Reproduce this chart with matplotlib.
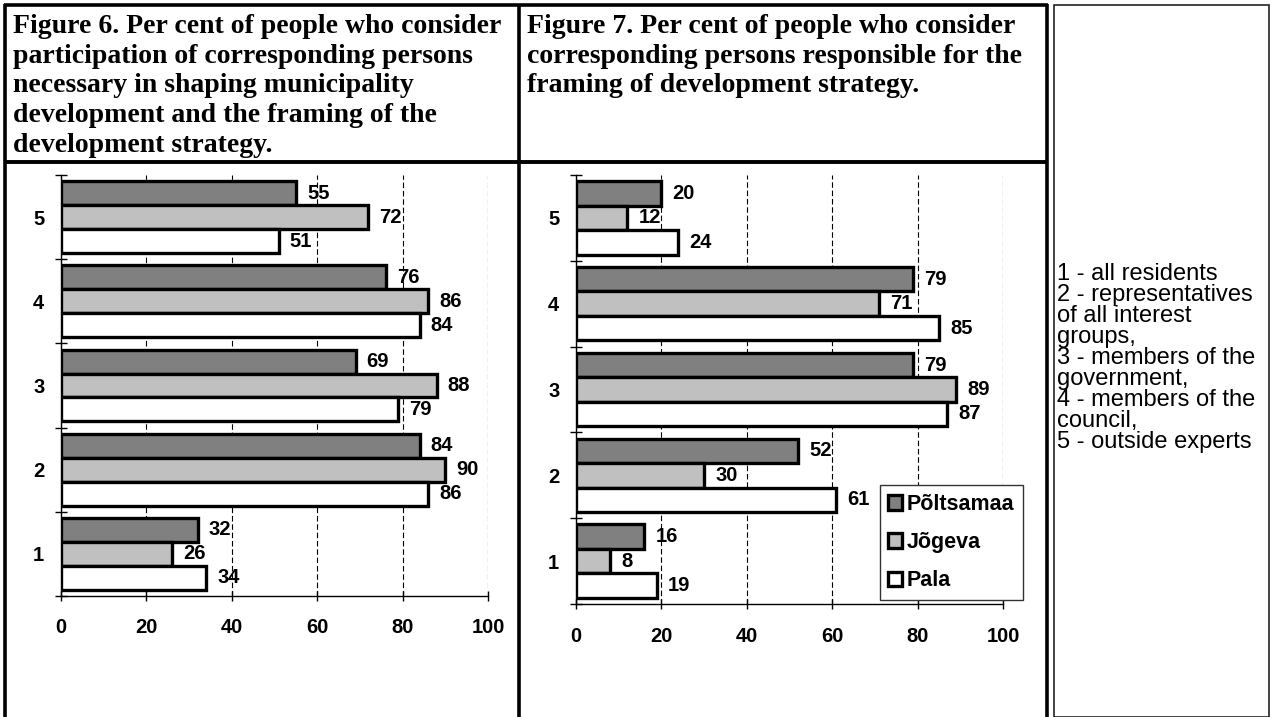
import matplotlib
matplotlib.use('Agg')
import matplotlib.pyplot as plt
from matplotlib.lines import Line2D
from matplotlib.patches import Rectangle
import numpy as np

# data
categories = ['1', '2', '3', '4', '5']
series_names = ['Põltsamaa', 'Jõgeva', 'Pala']

fig6_poltsamaa = [32, 84, 69, 76, 55]
fig6_jogeva = [26, 90, 88, 86, 72]
fig6_pala = [34, 86, 79, 84, 51]

fig7_poltsamaa = [16, 52, 79, 79, 20]
fig7_jogeva = [8, 30, 89, 71, 12]
fig7_pala = [19, 61, 87, 85, 24]

x_ticks = [0, 20, 40, 60, 80, 100]

title6 = ["Figure 6. Per cent of people who consider",
          "participation of corresponding persons",
          "necessary in shaping municipality",
          "development and the framing of the",
          "development strategy."]
title7 = ["Figure 7. Per cent of people who consider",
          "corresponding persons responsible for the",
          "framing of development strategy."]
key_lines = ["1 - all residents",
             "2 - representatives",
             "of all interest",
             "groups,",
             "3 - members of the",
             "government,",
             "4 - members of the",
             "council,",
             "5 - outside experts"]

colors = ['#808080', '#C0C0C0', '#FFFFFF']
SANS = 'Liberation Sans'
SERIF = 'Liberation Serif'

W, H = 1276, 717
fig = plt.figure(figsize=(W / 100, H / 100), dpi=100)


def fx(x):
    return x / W


def fy(y):
    return 1 - y / H


def hline(y, x0, x1, lw, color='black'):
    fig.add_artist(Line2D([fx(x0), fx(x1)], [fy(y), fy(y)], color=color, lw=lw,
                          solid_capstyle='butt'))


def vline(x, y0, y1, lw, color='black'):
    fig.add_artist(Line2D([fx(x), fx(x)], [fy(y0), fy(y1)], color=color, lw=lw,
                          solid_capstyle='butt'))


def draw_chart(ax, series, xlabel_pad):
    y = np.arange(1, len(categories) + 1)
    h = 0.285
    containers = []
    for vals, off, col, name in zip(series, [h, 0, -h], colors, series_names):
        bars = ax.barh(y + off, vals, height=h, color=col, edgecolor='black',
                       linewidth=2.4, zorder=3, label=name)
        containers.append(bars)
        for b, v in zip(bars, vals):
            ax.annotate(str(v), (v, b.get_y() + h / 2), xytext=(8, 0),
                        textcoords='offset points', ha='left', va='center',
                        fontsize=14.5, fontweight='bold', family=SANS, zorder=4)
    ax.set_xlim(0, 100)
    ax.set_ylim(0.5, len(categories) + 0.5)
    ax.set_xticks(x_ticks)
    ax.set_xticklabels([str(t) for t in x_ticks], fontsize=14.5, fontweight='bold',
                       family=SANS)
    ax.set_yticks(np.arange(0.5, len(categories) + 1))
    ax.set_yticklabels([])
    ax.set_yticks(y, minor=True)
    ax.set_yticklabels(categories, minor=True, fontsize=14.5, fontweight='bold',
                       family=SANS)
    ax.tick_params(axis='y', which='major', direction='inout', length=9, width=1)
    ax.tick_params(axis='y', which='minor', length=0, pad=12)
    ax.tick_params(axis='x', direction='inout', length=7, width=1, pad=xlabel_pad)
    for s in ['top', 'right']:
        ax.spines[s].set_visible(False)
    ax.spines['left'].set_linewidth(1)
    ax.spines['bottom'].set_linewidth(1)
    ax.xaxis.grid(True, color='black', linestyle=(0, (5, 2.5)), linewidth=0.8)
    ax.set_axisbelow(True)
    return containers


# Figure 6 chart
ax6 = fig.add_axes([fx(61), fy(596), fx(488) - fx(61), fy(175) - fy(596)])
draw_chart(ax6, [fig6_poltsamaa, fig6_jogeva, fig6_pala], 12)

# Figure 7 chart
ax7 = fig.add_axes([fx(576), fy(604), fx(1003) - fx(576), fy(175) - fy(604)])
bars7 = draw_chart(ax7, [fig7_poltsamaa, fig7_jogeva, fig7_pala], 13)
leg = ax7.legend(handles=bars7, loc='lower right',
                 bbox_to_anchor=(fx(1023), fy(600)), bbox_transform=fig.transFigure,
                 prop={'family': SANS, 'weight': 'bold', 'size': 15.5},
                 handlelength=0.65, handleheight=0.65, handletextpad=0.2,
                 labelspacing=0.8, borderpad=0.4, borderaxespad=0,
                 fancybox=False, framealpha=1, edgecolor='#333333')
leg.get_frame().set_linewidth(1)
leg.set_zorder(5)

# header texts
for i, line in enumerate(title6):
    fig.text(fx(13), fy(33 + 29.7 * i), line, fontsize=20, fontweight='bold',
             family=SERIF, va='baseline', ha='left')
for i, line in enumerate(title7):
    fig.text(fx(527), fy(33 + 29.7 * i), line, fontsize=20, fontweight='bold',
             family=SERIF, va='baseline', ha='left')

# key in the right-hand cell
for i, line in enumerate(key_lines):
    fig.text(fx(1057), fy(274 + 21 * i), line, fontsize=17, family=SANS,
             va='center', ha='left')

# table borders
hline(5, 4, 1048, 2.6)
hline(162, 4, 1048, 2.8)
vline(5, 4, 717, 2.6)
vline(519, 4, 717, 2.6)
vline(1047, 4, 717, 2.6)
fig.add_artist(Rectangle((fx(1054), fy(717)), fx(1269) - fx(1054), fy(5) - fy(717),
                         transform=fig.transFigure, fill=False, edgecolor='#222222',
                         lw=1.2))

fig.savefig('out.png', dpi=100)
